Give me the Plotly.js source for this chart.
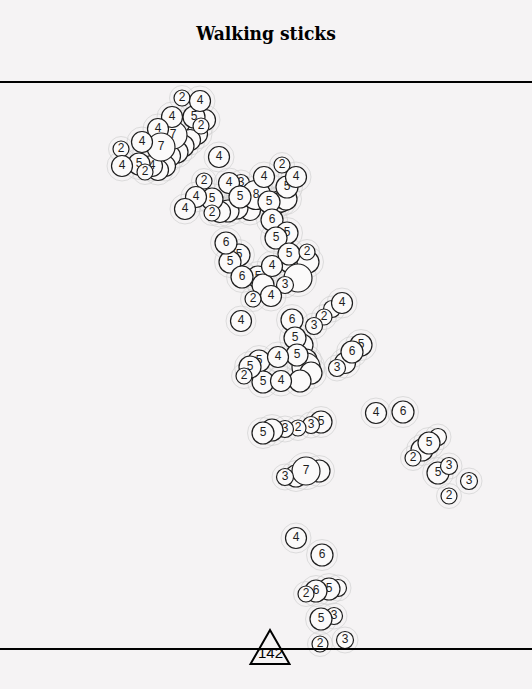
<!DOCTYPE html>
<html><head><meta charset="utf-8">
<script src="https://cdn.plot.ly/plotly-3.0.1.min.js"></script>
<style>html,body{margin:0;padding:0;background:#f5f3f4}#chart{width:532px;height:689px}</style>
</head><body><div id="chart"></div>
<script>
// Stick positions (horizontal, vertical), counts, and whether the label is hidden
const xs = [205,197,190,183,177,170,165,158,194,173,152,139,172,158,161,142,182,200,201,121,122,145,219,
  250,237,228,220,241,212,204,229,196,185,256,240,212,
  276,281,286,287,264,282,296,269,272,
  287,276,239,230,226,290,308,298,289,258,263,307,272,242,285,271,253,241,
  332,342,324,314,292,
  302,295,306,306,311,300,259,263,297,278,250,244,281,361,345,352,337,
  321,311,298,285,272,263,376,403,438,422,429,413,438,449,469,449,319,296,306,285,
  296,322,338,329,316,306,334,321,320,345];
const ys = [120,134,140,146,152,156,166,170,117,135,166,164,117,129,147,142,98,101,126,149,166,172,157,
  210,208,211,212,183,199,181,183,197,209,195,197,213,
  203,201,199,187,177,165,177,202,220,
  233,238,255,262,243,262,262,278,254,277,285,252,266,277,285,296,299,321,
  309,303,317,326,320,
  345,338,360,367,373,381,361,382,355,357,367,376,381,345,363,352,368,
  422,425,428,429,430,433,413,412,437,450,443,458,473,466,481,496,471,476,471,477,
  538,555,588,589,591,594,616,619,644,640];
const vals = [4,4,4,5,5,4,4,4,5,7,4,5,4,4,7,4,2,4,2,2,4,2,4,
  4,5,5,4,3,5,2,4,4,4,8,5,2,
  5,5,5,5,4,2,4,5,6,
  5,5,5,5,6,5,5,7,5,5,5,2,4,6,3,4,2,4,
  3,4,2,3,6,
  5,5,5,7,5,5,5,5,5,4,5,2,4,5,4,6,3,
  5,3,2,3,5,5,4,6,3,5,5,2,5,3,3,2,5,5,7,3,
  4,6,3,5,6,2,3,5,2,3];
const hidden = [1,1,1,1,1,1,1,1,0,0,0,0,0,0,0,0,0,0,0,0,0,0,0,
  1,1,1,1,0,0,0,0,0,0,0,0,0,
  1,1,1,0,0,0,0,0,0,
  0,0,0,0,0,1,1,1,0,0,1,0,0,0,0,0,0,0,
  1,0,0,0,0,
  1,0,1,1,1,1,0,0,0,0,0,0,0,0,1,0,0,
  0,0,0,0,1,0,0,0,1,1,0,0,0,0,0,0,1,1,0,0,
  0,0,1,0,0,0,0,0,0,0];
const markerX = [270], markerY = [648], markerLabel = ['142'];

const xRange = [0, 532], yRange = [648, 83];
const sizeOf = v => ({2:16,3:17,4:21,5:22,6:22,7:28,8:29})[v];
const ink = '#1e1e1e';
const traces = [];
traces.push({x: xs, y: ys, mode: 'markers', cliponaxis: false, hoverinfo: 'skip',
  marker: {size: vals.map(v => sizeOf(v) + 9), color: 'rgba(0,0,0,0)', line: {color: '#d2d2d2', width: 1}}});
for (let i = 0; i < xs.length; i++) {
  traces.push({x: [xs[i]], y: [ys[i]], mode: hidden[i] ? 'markers' : 'markers+text',
    text: [String(vals[i])], textposition: 'middle center', cliponaxis: false, hoverinfo: 'skip',
    textfont: {family: 'Liberation Sans, Arial, sans-serif', size: 12, color: ink},
    marker: {size: sizeOf(vals[i]), color: '#fbfafa', line: {color: ink, width: 1.2}}});
}
const layout = {
  width: 532, height: 689, showlegend: false,
  colorway: [ink], font: {color: ink},
  margin: {l: 0, r: 0, t: 83, b: 41},
  paper_bgcolor: '#f5f3f4', plot_bgcolor: '#f5f3f4',
  title: {text: '<b>Walking sticks</b>', x: 0.5, xanchor: 'center', y: 1 - 33/689, yref: 'container', yanchor: 'middle',
    font: {family: 'DejaVu Serif Condensed, DejaVu Serif, serif', size: 19, color: '#000'}},
  xaxis: {range: xRange, showgrid: false, zeroline: false, showticklabels: false, ticks: '',
    showline: true, mirror: true, linecolor: '#000', linewidth: 2},
  yaxis: {range: yRange, showgrid: false, zeroline: false, showticklabels: false, ticks: '', showline: false},
  shapes: [{type: 'path', xref: 'paper', yref: 'paper', xsizemode: 'pixel', ysizemode: 'pixel',
    xanchor: (markerX[0] - xRange[0]) / (xRange[1] - xRange[0]),
    yanchor: (yRange[0] - markerY[0]) / (yRange[0] - yRange[1]),
    path: 'M-19.5,-16 L19.5,-16 L0,18 Z',
    line: {color: '#000', width: 2}, fillcolor: 'rgba(0,0,0,0)', layer: 'above'}],
  annotations: [{x: markerX[0], y: markerY[0], text: markerLabel[0], showarrow: false, yshift: -4,
    font: {family: 'Liberation Sans, Arial, sans-serif', size: 15, color: '#000'}}]
};
Plotly.newPlot('chart', traces, layout, {staticPlot: true, displayModeBar: false});
</script></body></html>
